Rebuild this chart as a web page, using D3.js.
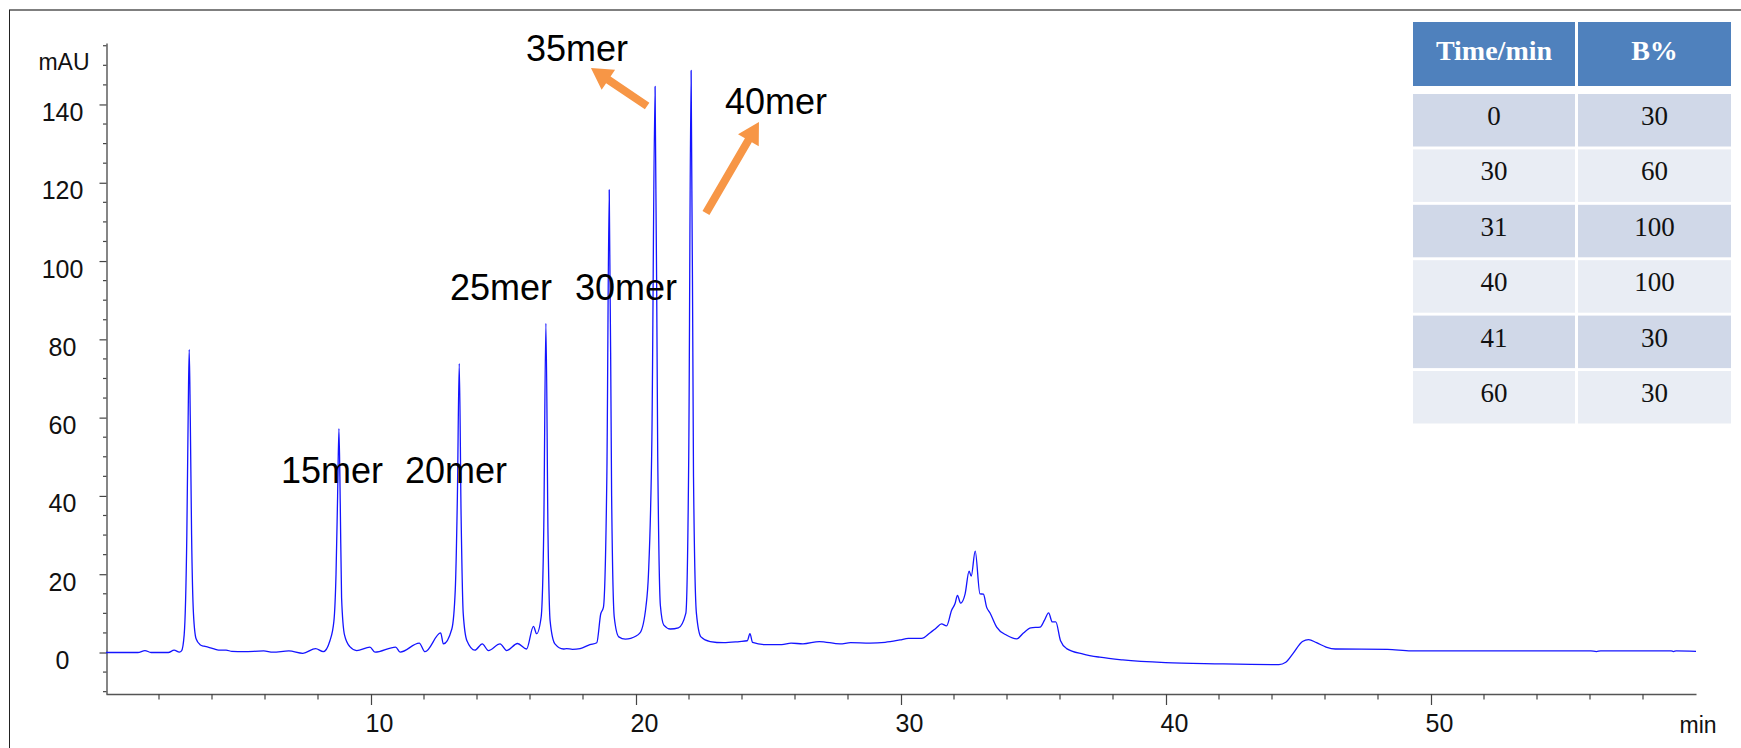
<!DOCTYPE html>
<html>
<head>
<meta charset="utf-8">
<script src="https://cdn.jsdelivr.net/npm/d3@7"></script>
<style>
body { margin: 0; background: #fff; }
svg text { font-family: "Liberation Sans", Arial, sans-serif; }
</style>
</head>
<body>
<svg id="mainContainer"></svg>
<script>
/* global d3 */

// chromatogram trace (min, mAU)
var traceTime = [0, 1.2, 1.47, 1.7, 2.35, 2.57, 2.77, 2.85, 2.95, 3.05, 3.1, 3.14, 3.18, 3.23, 3.3, 3.4, 3.55, 3.7, 3.85, 4.08, 4.25, 4.53, 4.75, 5.2, 5.95, 6.3, 6.9, 7.43, 7.91, 8.2,
  8.45, 8.6, 8.68, 8.74, 8.79, 8.84, 8.89, 9.0, 9.2, 9.46, 9.96, 10.15, 10.93, 11.1, 11.82, 12.04, 12.63, 12.73, 13.05, 13.18, 13.26, 13.33, 13.4, 13.48, 13.62, 13.92,
  14.2, 14.43, 14.87, 15.12, 15.53, 15.87, 16.13, 16.25, 16.42, 16.52, 16.6, 16.68, 16.76, 16.94, 17.26, 17.38, 17.6, 17.89, 18.26, 18.52, 18.67, 18.77, 18.9, 18.99,
  19.08, 19.18, 19.35, 19.6, 19.8, 20.15, 20.38, 20.47, 20.6, 20.72, 20.82, 20.92, 21.05, 21.3, 21.6, 21.88, 21.99, 22.08, 22.17, 22.28, 22.45, 22.8, 23.3, 23.9,
  24.2, 24.3, 24.4, 24.9, 25.5, 25.85, 26.3, 26.92, 27.7, 28.1, 28.83, 29.4, 29.96, 30.28, 30.78, 31.09, 31.32, 31.53, 31.72, 31.91, 32.04, 32.13, 32.25, 32.42,
  32.57, 32.65, 32.8, 32.98, 33.11, 33.23, 33.36, 33.61, 33.99, 34.37, 34.62, 34.9, 35.25, 35.41, 35.57, 35.71, 35.84, 36.02, 36.25, 36.88, 37.5, 38.37, 39.98,
  41.94, 44.26, 44.52, 44.79, 45.15, 45.38, 45.68, 46.04, 46.39, 48.36, 49.25, 56.03, 56.24, 56.4, 59.06, 59.15, 59.25, 60];
var traceMAU = [0, 0, 0.5, 0, 0, 0.6, 0.1, 0.4, 4.5, 30, 60, 77.4, 60, 30, 10, 3.5, 2.0, 1.6, 1.4, 0.9, 0.6, 0.6, 0.3, 0.2, 0.4, 0.1, 0.4, -0.2, 1.0, 0.2,
  3.0, 8.0, 20, 40, 57.2, 38, 14, 4.5, 1.5, 0.5, 1.4, 0.1, 1.4, 0.1, 2.4, 0.2, 5.0, 2.2, 6.0, 16, 40, 73.8, 35, 10, 3.0, 0.6,
  2.2, 0.5, 2.2, 0.5, 2.3, 0.9, 6.7, 4.8, 9.0, 32, 84.1, 30, 8.0, 2.2, 0.9, 1.0, 0.8, 1.0, 2.0, 2.5, 9.9, 11.5, 45, 118.2,
  40, 9, 4, 3.4, 3.6, 5.0, 12, 20, 55, 144.6, 50, 12, 7, 6.0, 6.3, 10, 50, 148.7, 45, 10, 4.0, 2.8, 2.5, 2.8,
  3.0, 4.8, 2.6, 2.0, 2.0, 2.4, 2.2, 2.8, 2.2, 2.5, 2.4, 2.6, 3.2, 3.6, 3.6, 5.0, 6.2, 7.3, 6.8, 10.8, 12.5, 14.6, 12.6, 15.0,
  20.8, 19.5, 25.9, 15.0, 14.9, 11.6, 10.1, 6.5, 4.4, 3.5, 5.0, 6.3, 6.5, 8.2, 10.1, 7.8, 7.8, 3.0, 1.0, -0.4, -1.2, -1.9, -2.6,
  -2.9, -3.1, -2.5, -0.3, 2.8, 3.3, 2.5, 1.4, 0.9, 0.8, 0.4, 0.4, 0.25, 0.4, 0.4, 0.25, 0.4, 0.3];

var xMajorTicks = [10, 20, 30, 40, 50];
var yMajorTicks = [0, 20, 40, 60, 80, 100, 120, 140];

// peak labels (anchor = left end of text baseline, in min / mAU)
var peakLabels = ["15mer", "20mer", "25mer", "30mer", "35mer", "40mer"];
var peakLabelTime = [6.6, 11.28, 12.98, 17.7, 15.85, 23.36];
var peakLabelMAU = [43.3, 43.3, 90, 90, 151.1, 137.5];

// orange arrows, tail -> tip
var arrowFromTime = [20.42, 22.64];
var arrowFromMAU = [139.6, 112.3];
var arrowToTime = [18.3, 24.64];
var arrowToMAU = [149.3, 135.5];

// gradient table
var tableHeader = ["Time/min", "B%"];
var gradTime = [0, 30, 31, 40, 41, 60];
var gradB = [30, 60, 100, 100, 30, 30];

var svgWidth = 1741;
var svgHeight = 748;

var svg = d3.select('#mainContainer')
  .attr('width', svgWidth)
  .attr('height', svgHeight);

svg.append('rect').attr('width', svgWidth).attr('height', svgHeight).attr('fill', '#fff');

// frame lines
svg.append('line').attr('x1', 9).attr('x2', svgWidth).attr('y1', 10).attr('y2', 10)
  .attr('stroke', '#7f7f7f').attr('stroke-width', 2);
svg.append('line').attr('x1', 9.5).attr('x2', 9.5).attr('y1', 10).attr('y2', svgHeight)
  .attr('stroke', '#222').attr('stroke-width', 1);

var x = d3.scaleLinear().domain([0, 60]).range([106, 1696]);
var y = d3.scaleLinear().domain([-10.6, 155.7]).range([694, 43]);

var xMinor = d3.range(2, 60, 2).filter(function(d){ return d % 10 != 0; });
var yMinor = d3.range(-10, 156, 5).filter(function(d){ return yMajorTicks.indexOf(d) < 0; });

// y axis
var yAxisG = svg.append('g').attr('transform', 'translate(106.5,0)');
yAxisG.call(d3.axisLeft(y).tickValues(yMajorTicks).tickSize(7).tickSizeOuter(0).tickFormat(d3.format('d')));
yAxisG.select('.domain').attr('stroke', '#444').attr('stroke-width', 1.3);
yAxisG.selectAll('.tick line').attr('stroke', '#444').attr('stroke-width', 1.2);
yAxisG.selectAll('.tick text')
  .attr('x', -44).attr('dy', 0).attr('y', 16)
  .attr('text-anchor', 'middle')
  .style('font-size', '25px').attr('fill', '#111');
svg.append('g').attr('transform', 'translate(106.5,0)')
  .selectAll('line').data(yMinor).enter().append('line')
  .attr('x1', -3.5).attr('x2', 0)
  .attr('y1', function(d){ return y(d); }).attr('y2', function(d){ return y(d); })
  .attr('stroke', '#444').attr('stroke-width', 1.2);

svg.append('text').attr('x', 64).attr('y', 70).attr('text-anchor', 'middle')
  .style('font-size', '23px').attr('fill', '#111').text('mAU');

// x axis
var xAxisG = svg.append('g').attr('transform', 'translate(0,694)');
xAxisG.call(d3.axisBottom(x).tickValues(xMajorTicks).tickSize(11).tickSizeOuter(0).tickFormat(d3.format('d')));
xAxisG.select('.domain').attr('stroke', '#555').attr('stroke-width', 1.6);
xAxisG.selectAll('.tick line').attr('stroke', '#444').attr('stroke-width', 1.2);
xAxisG.selectAll('.tick text')
  .attr('x', 8).attr('y', 38).attr('dy', 0)
  .style('font-size', '25px').attr('fill', '#111');
xAxisG.selectAll('.minor').data(xMinor).enter().append('line')
  .attr('class', 'minor')
  .attr('x1', function(d){ return x(d); }).attr('x2', function(d){ return x(d); })
  .attr('y1', 0).attr('y2', 5.5)
  .attr('stroke', '#444').attr('stroke-width', 1.2);

svg.append('text').attr('x', 1698).attr('y', 733).attr('text-anchor', 'middle')
  .style('font-size', '23px').attr('fill', '#111').text('min');

// the trace
var points = traceTime.map(function(t, i){ return [t, traceMAU[i]]; });
var line = d3.line()
  .x(function(d){ return x(d[0]); })
  .y(function(d){ return y(d[1]); })
  .curve(d3.curveMonotoneX);

svg.append('path')
  .datum(points)
  .attr('d', line)
  .attr('fill', 'none')
  .attr('stroke', '#1414ff')
  .attr('stroke-width', 1.3)
  .attr('stroke-linejoin', 'round');

// peak labels
svg.selectAll('.peakLabel')
  .data(peakLabels)
  .enter()
  .append('text')
  .attr('class', 'peakLabel')
  .attr('x', function(d, i){ return x(peakLabelTime[i]); })
  .attr('y', function(d, i){ return y(peakLabelMAU[i]); })
  .style('font-size', '36px')
  .attr('fill', '#000')
  .text(function(d){ return d; });

// arrows
function arrowPoints(x1, y1, x2, y2){
  var dx = x2 - x1, dy = y2 - y1;
  var len = Math.sqrt(dx * dx + dy * dy);
  var ux = dx / len, uy = dy / len;
  var px = -uy, py = ux;
  var sw = 4, hw = 12, hl = 21;
  var nx = x2 - ux * hl, ny = y2 - uy * hl;
  return [[x1 + px * sw, y1 + py * sw], [nx + px * sw, ny + py * sw], [nx + px * hw, ny + py * hw], [x2, y2],
    [nx - px * hw, ny - py * hw], [nx - px * sw, ny - py * sw], [x1 - px * sw, y1 - py * sw]];
}
svg.selectAll('.arrow')
  .data(arrowFromTime)
  .enter()
  .append('polygon')
  .attr('class', 'arrow')
  .attr('points', function(d, i){
    return arrowPoints(x(arrowFromTime[i]), y(arrowFromMAU[i]), x(arrowToTime[i]), y(arrowToMAU[i]))
      .map(function(p){ return p.join(','); }).join(' ');
  })
  .attr('fill', '#f79646');

// gradient table
var colX = [1413, 1578];
var colW = [162, 153];
var headY = 22, headH = 64;
var rowY0 = 94, rowStep = 55.4, rowH = 52.5;

var table = svg.append('g').attr('id', 'gradTable');
table.selectAll('.head')
  .data(tableHeader)
  .enter()
  .append('rect')
  .attr('x', function(d, i){ return colX[i]; })
  .attr('y', headY)
  .attr('width', function(d, i){ return colW[i]; })
  .attr('height', headH)
  .attr('fill', '#4f81bd');
table.selectAll('.headText')
  .data(tableHeader)
  .enter()
  .append('text')
  .attr('x', function(d, i){ return colX[i] + colW[i] / 2; })
  .attr('y', headY + 37.5)
  .attr('text-anchor', 'middle')
  .style('font-family', '"Liberation Serif", "Times New Roman", serif')
  .style('font-size', '28px')
  .style('font-weight', 'bold')
  .attr('fill', '#fff')
  .text(function(d){ return d; });

gradTime.forEach(function(t, r){
  var cells = [t, gradB[r]];
  var rowTop = rowY0 + r * rowStep;
  cells.forEach(function(v, c){
    table.append('rect')
      .attr('x', colX[c]).attr('y', rowTop)
      .attr('width', colW[c]).attr('height', rowH)
      .attr('fill', r % 2 == 0 ? '#d0d8e8' : '#e9edf4');
    table.append('text')
      .attr('x', colX[c] + colW[c] / 2)
      .attr('y', rowTop + 31)
      .attr('text-anchor', 'middle')
      .style('font-family', '"Liberation Serif", "Times New Roman", serif')
      .style('font-size', '27px')
      .attr('fill', '#111')
      .text(v);
  });
});
</script>
</body>
</html>
